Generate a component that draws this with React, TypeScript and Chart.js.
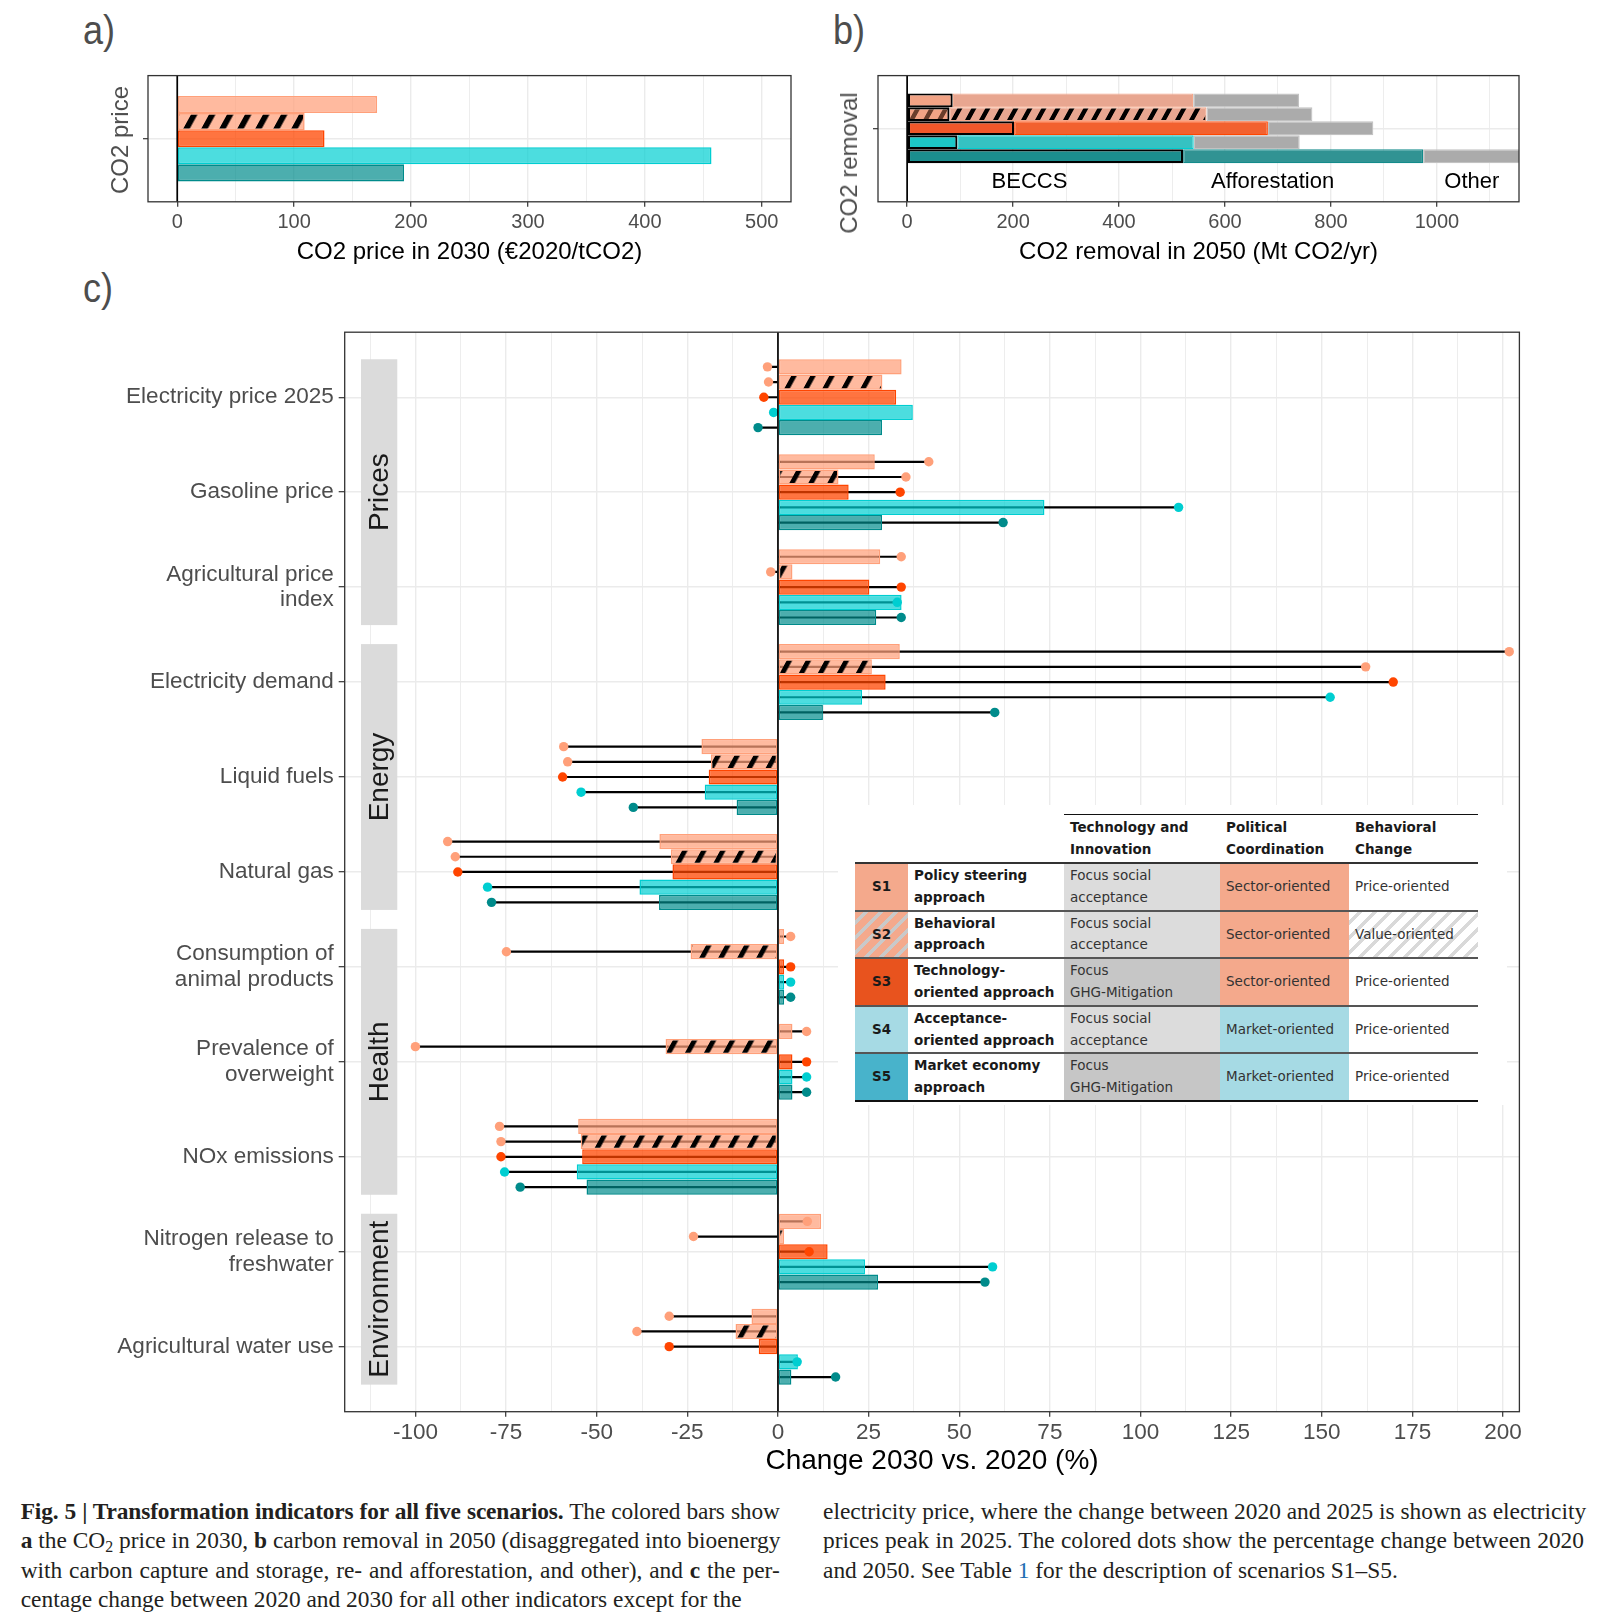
import React, { useEffect, useRef } from 'react';
import { Chart, registerables } from 'chart.js';

Chart.register(...registerables);

// ---------------- data ----------------
const scenarios = ['S1', 'S2', 'S3', 'S4', 'S5'];

// panel a
const co2PriceTicks = [0, 100, 200, 300, 400, 500];
const co2Price2030 = [171, 109, 126, 457, 194];

// panel b
const removalTicks = [0, 200, 400, 600, 800, 1000];
const removalBECCS = [86, 80, 202, 95, 521];
const removalAfforestation = [454, 485, 479, 446, 453];
const removalOther = [200, 200, 199, 200, 186];
const removalTypes = ['BECCS', 'Afforestation', 'Other'];
const removalTypeLabelX = [231, 690, 1066];

// panel c
const indicators: any[] = [
  'Electricity price 2025',
  'Gasoline price',
  ['Agricultural price', 'index'],
  'Electricity demand',
  'Liquid fuels',
  'Natural gas',
  ['Consumption of', 'animal products'],
  ['Prevalence of', 'overweight'],
  'NOx emissions',
  ['Nitrogen release to', 'freshwater'],
  'Agricultural water use',
];
const sectors = ['Prices', 'Energy', 'Health', 'Environment'];
const sectorFirst = [0, 3, 6, 9];
const sectorLast = [2, 5, 8, 10];
const changeTicks = [-100, -75, -50, -25, 0, 25, 50, 75, 100, 125, 150, 175, 200];

const change2030S1 = [34.1, 26.7, 28.2, 33.6, -21.1, -32.7, 1.7, 4.0, -55.1, 11.9, -7.3];
const change2030S2 = [28.8, 16.7, 4.0, 25.9, -18.5, -29.5, -24.1, -31.0, -54.4, 1.7, -11.7];
const change2030S3 = [32.6, 19.5, 25.2, 29.7, -19.1, -29.1, 1.7, 4.0, -54.0, 13.7, -5.3];
const change2030S4 = [37.2, 73.5, 34.1, 23.2, -20.2, -38.2, 1.7, 4.0, -55.5, 24.0, 5.5];
const change2030S5 = [28.7, 28.7, 27.1, 12.4, -11.4, -32.8, 1.7, 4.0, -52.8, 27.6, 3.7];

const change2050S1 = [-2.9, 41.6, 34.0, 201.7, -59.1, -91.1, 3.5, 7.9, -76.8, 8.1, -30.0];
const change2050S2 = [-2.6, 35.3, -2.0, 162.1, -58.0, -89.0, -74.9, -100.0, -76.4, -23.3, -38.9];
const change2050S3 = [-3.9, 33.7, 34.0, 169.7, -59.4, -88.3, 3.5, 7.9, -76.4, 8.6, -30.0];
const change2050S4 = [-1.2, 110.5, 32.9, 152.3, -54.3, -80.1, 3.5, 7.9, -75.4, 59.2, 5.3];
const change2050S5 = [-5.5, 62.1, 34.0, 59.8, -39.9, -79.0, 3.5, 7.9, -71.1, 57.1, 15.9];

const change2030 = [change2030S1, change2030S2, change2030S3, change2030S4, change2030S5];
const change2050 = [change2050S1, change2050S2, change2050S3, change2050S4, change2050S5];

// table (legend)
const scenarioNames = [
  ['Policy steering', 'approach'],
  ['Behavioral', 'approach'],
  ['Technology-', 'oriented approach'],
  ['Acceptance-', 'oriented approach'],
  ['Market economy', 'approach'],
];
const techInnovation = [
  ['Focus social', 'acceptance'],
  ['Focus social', 'acceptance'],
  ['Focus', 'GHG-Mitigation'],
  ['Focus social', 'acceptance'],
  ['Focus', 'GHG-Mitigation'],
];
const politicalCoordination = ['Sector-oriented', 'Sector-oriented', 'Sector-oriented', 'Market-oriented', 'Market-oriented'];
const behavioralChange = ['Price-oriented', 'Value-oriented', 'Price-oriented', 'Price-oriented', 'Price-oriented'];
const tableHeader = [['Technology and', 'Innovation'], ['Political', 'Coordination'], ['Behavioral', 'Change']];

// ---------------- styles ----------------
const FONT_SANS = '"Liberation Sans", Arial, Helvetica, sans-serif';
const FONT_TABLE = '"DejaVu Sans", Verdana, sans-serif';
const FONT_SERIF = '"Liberation Serif", "Times New Roman", serif';
Chart.defaults.font.family = FONT_SANS;

const RGB = [[255, 160, 122], [255, 160, 122], [255, 69, 0], [0, 206, 209], [0, 139, 139]];
const FILL_ALPHA = [0.72, 0.72, 0.75, 0.7, 0.7];
const rgba = (c: number[], a: number) => `rgba(${c[0]},${c[1]},${c[2]},${a})`;

const BECCS_FILL = ['#F2A385', '#F2A385', '#F0572A', '#1CC7C7', '#1B8E8E'];
const AFF_FILL = ['#E8A690', '#E8A690', '#F2612F', '#35C2C2', '#319393'];
const AFF_BORDER = ['#F5A88B', '#F5A88B', '#FF4500', '#00CED1', '#138B8B'];
const OTHER_FILL = '#ABABAB';
const OTHER_BORDER = '#C2C2C2';

const GROUP_WIDTH = 0.8;
const GRID = '#EBEBEB';
const TICK_TEXT = '#4D4D4D';

function makeHatch(ctx: any, bg: string, stripe: string, period: number, width: number) {
  const c = document.createElement('canvas');
  c.width = period;
  c.height = period;
  const g = c.getContext('2d') as CanvasRenderingContext2D;
  g.fillStyle = bg;
  g.fillRect(0, 0, period, period);
  g.fillStyle = stripe;
  g.fillRect(0, 0, width, period);
  const p = ctx.createPattern(c, 'repeat');
  if (p && (p as any).setTransform) p.setTransform(new DOMMatrix([1, 0, -0.55, 1, 0, 0]));
  return p;
}

const withMinor = (major: number[], step: number, min: number, max: number) => {
  const all: number[] = [];
  major.forEach((v) => all.push(v - step / 2, v));
  all.push(major[major.length - 1] + step / 2);
  return all.filter((v) => v >= min && v <= max).sort((a, b) => a - b);
};
const isMajor = (v: number, step: number) => Math.abs(v / step - Math.round(v / step)) < 1e-6;

function xAxis(o: any) {
  const ticks = withMinor(o.major, o.step, o.min, o.max);
  return {
    type: 'linear',
    min: o.min,
    max: o.max,
    stacked: o.stacked,
    afterBuildTicks: (ax: any) => {
      ax.ticks = ticks.map((v) => ({ value: v }));
    },
    afterFit: (ax: any) => {
      ax.height = o.height;
    },
    ticks: {
      autoSkip: false,
      maxRotation: 0,
      color: TICK_TEXT,
      font: { size: o.tickSize },
      padding: o.tickPad,
      callback: (v: number) => (isMajor(v, o.step) ? String(v) : ''),
    },
    grid: {
      color: GRID,
      lineWidth: (c: any) => (c.tick && isMajor(c.tick.value, o.step) ? 1.4 : 0.9),
      tickColor: (c: any) => (c.tick && isMajor(c.tick.value, o.step) ? '#333333' : 'rgba(0,0,0,0)'),
      tickLength: 5,
      tickWidth: 1.2,
    },
    border: { display: false },
    title: {
      display: true,
      text: o.title,
      color: '#000',
      font: { size: o.titleSize, lineHeight: o.titleLH },
      padding: { top: 0, bottom: o.titlePad },
    },
  };
}

// fixed-width y axis that does not push the plot area for its labels
const fixY = (w: number) => (ax: any) => {
  ax.width = w;
  ax.paddingTop = 0;
  ax.paddingBottom = 0;
};

// ---------------- plugins ----------------
const panelBox = {
  id: 'panelBox',
  afterDraw(chart: any) {
    const { ctx, chartArea: a } = chart;
    ctx.save();
    ctx.strokeStyle = '#333333';
    ctx.lineWidth = 1.3;
    ctx.strokeRect(a.left, a.top, a.right - a.left, a.bottom - a.top);
    ctx.restore();
  },
};

const zeroLine = {
  id: 'zeroLine',
  afterDatasetsDraw(chart: any) {
    const { ctx, chartArea: a, scales } = chart;
    const x = scales.x.getPixelForValue(0);
    ctx.save();
    ctx.strokeStyle = '#000';
    ctx.lineWidth = 1.7;
    ctx.beginPath();
    ctx.moveTo(x, a.top);
    ctx.lineTo(x, a.bottom);
    ctx.stroke();
    ctx.restore();
  },
};

const STRIP_FROM = -115;
const STRIP_TO = -105;
const sectorStrips = {
  id: 'sectorStrips',
  beforeDatasetsDraw(chart: any) {
    const { ctx, scales } = chart;
    const { x, y } = scales;
    ctx.save();
    sectors.forEach((name, g) => {
      const x0 = x.getPixelForValue(STRIP_FROM);
      const x1 = x.getPixelForValue(STRIP_TO);
      const y0 = y.getPixelForValue(sectorFirst[g] - GROUP_WIDTH / 2);
      const y1 = y.getPixelForValue(sectorLast[g] + GROUP_WIDTH / 2);
      ctx.fillStyle = '#DBDBDB';
      ctx.fillRect(x0, y0, x1 - x0, y1 - y0);
      ctx.save();
      ctx.translate((x0 + x1) / 2, (y0 + y1) / 2);
      ctx.rotate(-Math.PI / 2);
      ctx.fillStyle = '#1A1A1A';
      ctx.font = `28px ${FONT_SANS}`;
      ctx.textAlign = 'center';
      ctx.textBaseline = 'middle';
      ctx.fillText(name, 0, 1);
      ctx.restore();
    });
    ctx.restore();
  },
};

const REMOVAL_LABEL_Y = 0.62;
const removalTypeText = {
  id: 'removalTypeText',
  afterDatasetsDraw(chart: any) {
    const { ctx, scales } = chart;
    ctx.save();
    ctx.fillStyle = '#000';
    ctx.font = `22px ${FONT_SANS}`;
    ctx.textAlign = 'center';
    ctx.textBaseline = 'middle';
    removalTypes.forEach((t, j) => {
      ctx.fillText(t, scales.x.getPixelForValue(removalTypeLabelX[j]), scales.y.getPixelForValue(REMOVAL_LABEL_Y));
    });
    ctx.restore();
  },
};

const baseOptions = {
  indexAxis: 'y',
  animation: false,
  responsive: true,
  maintainAspectRatio: false,
  events: [],
};

// ---------------- chart builders ----------------
function buildPanelA(ctx: any) {
  const hatch = makeHatch(ctx, rgba(RGB[1], FILL_ALPHA[1]), '#000', 18, 6.5);
  return {
    type: 'bar',
    data: {
      labels: ['CO2 price'],
      datasets: scenarios.map((s, k) => ({
        label: s,
        data: [co2Price2030[k]],
        backgroundColor: k === 1 ? hatch : rgba(RGB[k], FILL_ALPHA[k]),
        borderColor: rgba(RGB[k], 1),
        borderWidth: 1.6,
        borderSkipped: false,
        categoryPercentage: 0.677,
        barPercentage: 1,
      })),
    },
    options: {
      ...baseOptions,
      layout: { padding: { top: 15.6, right: 14, left: 0, bottom: 0 } },
      plugins: { legend: { display: false }, tooltip: { enabled: false } },
      scales: {
        x: xAxis({
          major: co2PriceTicks, step: 100, min: -25, max: 525, height: 65.2,
          tickSize: 20, tickPad: 3.7, title: 'CO2 price in 2030 (€2020/tCO2)', titleSize: 24, titleLH: 1.2, titlePad: 0.6,
        }),
        y: {
          type: 'category',
          offset: true,
          afterFit: fixY(53),
          ticks: { callback: () => '' },
          grid: { color: GRID, lineWidth: 1.4, offset: false, tickColor: '#333', tickLength: 5, tickWidth: 1.2 },
          border: { display: false },
        },
      },
    },
    plugins: [zeroLine, panelBox],
  };
}

function buildPanelB(ctx: any) {
  const hatchBeccs = makeHatch(ctx, BECCS_FILL[1], 'rgba(70,35,20,0.8)', 14, 5);
  const hatchAff = makeHatch(ctx, AFF_FILL[1], '#000', 14, 5);
  const segs = [removalBECCS, removalAfforestation, removalOther];
  const datasets: any[] = [];
  scenarios.forEach((s, k) => {
    segs.forEach((arr, j) => {
      let bg: any = OTHER_FILL;
      if (j === 0) bg = k === 1 ? hatchBeccs : BECCS_FILL[k];
      if (j === 1) bg = k === 1 ? hatchAff : AFF_FILL[k];
      datasets.push({
        label: `${s} ${removalTypes[j]}`,
        data: [{ x: arr[k], y: 0 }],
        stack: s,
        backgroundColor: bg,
        borderColor: j === 0 ? '#000' : j === 1 ? AFF_BORDER[k] : OTHER_BORDER,
        borderWidth: j === 0 ? 2.2 : 1.2,
        borderSkipped: false,
        categoryPercentage: 0.553,
        barPercentage: 1,
      });
    });
  });
  return {
    type: 'bar',
    data: { datasets },
    options: {
      ...baseOptions,
      layout: { padding: { top: 15.6, right: 21, left: 0, bottom: 0 } },
      plugins: { legend: { display: false }, tooltip: { enabled: false } },
      scales: {
        x: xAxis({
          major: removalTicks, step: 200, min: -55, max: 1155, height: 65.2, stacked: true,
          tickSize: 20, tickPad: 3.7, title: 'CO2 removal in 2050 (Mt CO2/yr)', titleSize: 24, titleLH: 1.2, titlePad: 0.6,
        }),
        y: {
          type: 'linear',
          reverse: true,
          min: -0.605,
          max: 0.844,
          offset: false,
          afterBuildTicks: (ax: any) => { ax.ticks = [{ value: 0 }]; },
          afterFit: fixY(48),
          ticks: { callback: () => '' },
          grid: { color: GRID, lineWidth: 1.4, offset: false, tickColor: '#333', tickLength: 5, tickWidth: 1.2 },
          border: { display: false },
        },
      },
    },
    plugins: [removalTypeText, zeroLine, panelBox],
  };
}

function buildPanelC(ctx: any) {
  const hatch = makeHatch(ctx, rgba(RGB[1], FILL_ALPHA[1]), '#000', 19, 5.5);
  const n = scenarios.length;
  const datasets: any[] = [];
  scenarios.forEach((s, k) => {
    datasets.push({
      type: 'bar',
      label: `${s} 2030`,
      data: indicators.map((_, i) => ({ x: change2030[k][i], y: i })),
      stack: s,
      backgroundColor: k === 1 ? hatch : rgba(RGB[k], FILL_ALPHA[k]),
      borderColor: rgba(RGB[k], 1),
      borderWidth: 1.5,
      borderSkipped: false,
      categoryPercentage: GROUP_WIDTH,
      barPercentage: 1,
      order: 1,
    });
  });
  scenarios.forEach((s, k) => {
    datasets.push({
      type: 'bar',
      label: `${s} 2050 line`,
      data: indicators.map((_, i) => ({ x: [0, change2050[k][i]], y: i })),
      stack: s,
      backgroundColor: '#000',
      borderWidth: 0,
      categoryPercentage: GROUP_WIDTH,
      barPercentage: 1,
      maxBarThickness: 2.2,
      order: 2,
    });
  });
  scenarios.forEach((s, k) => {
    datasets.push({
      type: 'scatter',
      label: `${s} 2050`,
      data: indicators.map((_, i) => ({ x: change2050[k][i], y: i + (k - (n - 1) / 2) * (GROUP_WIDTH / n) })),
      backgroundColor: rgba(RGB[k], 1),
      borderWidth: 0,
      pointRadius: 4.7,
      order: 0,
    });
  });
  return {
    type: 'bar',
    data: { datasets },
    options: {
      ...baseOptions,
      layout: { padding: { top: 12.2, right: 20.6, left: 0, bottom: 0 } },
      plugins: { legend: { display: false }, tooltip: { enabled: false } },
      scales: {
        x: xAxis({
          major: changeTicks, step: 25, min: -119.5, max: 204.5, height: 70.3, stacked: false,
          tickSize: 22.5, tickPad: 3, title: 'Change 2030 vs. 2020 (%)', titleSize: 28, titleLH: 1, titlePad: 7,
        }),
        y: {
          type: 'linear',
          reverse: true,
          min: -0.685,
          max: 10.685,
          offset: false,
          afterBuildTicks: (ax: any) => { ax.ticks = indicators.map((_, i) => ({ value: i })); },
          afterFit: fixY(244.7),
          ticks: {
            autoSkip: false,
            color: TICK_TEXT,
            font: { size: 22.5, lineHeight: 1.13 },
            padding: 5,
            callback: (v: number) => indicators[v],
          },
          grid: { color: GRID, lineWidth: 1.4, offset: false, tickColor: '#333', tickLength: 6, tickWidth: 1.2 },
          border: { display: false },
        },
      },
    },
    plugins: [sectorStrips, zeroLine, panelBox],
  };
}

// ---------------- components ----------------
function ChartBox({ left, top, width, height, build }: any) {
  const ref = useRef<HTMLCanvasElement | null>(null);
  useEffect(() => {
    const canvas = ref.current as HTMLCanvasElement;
    const ctx = canvas.getContext('2d');
    const chart = new Chart(ctx as any, build(ctx) as any);
    return () => chart.destroy();
  }, []);
  return (
    <div style={{ position: 'absolute', left, top, width, height }}>
      <canvas ref={ref} />
    </div>
  );
}

function PanelLabel({ text, left, top }: any) {
  return (
    <div
      style={{
        position: 'absolute', left, top, fontFamily: FONT_SANS, fontSize: 41, lineHeight: '41px', color: '#4D4D4D',
        transform: 'scaleX(0.88)', transformOrigin: 'left top',
      }}
    >
      {text}
    </div>
  );
}

function RotatedTitle({ text, cx, cy }: any) {
  return (
    <div
      style={{
        position: 'absolute', left: cx, top: cy, transform: 'translate(-50%, -50%) rotate(-90deg)',
        fontFamily: FONT_SANS, fontSize: 24, lineHeight: '28px', color: '#4D4D4D', whiteSpace: 'nowrap',
      }}
    >
      {text}
    </div>
  );
}

const S_FILL = ['#F4A98C', null, '#E8531E', '#A6DAE4', '#48B3CB'];
const S2_STRIPES = 'repeating-linear-gradient(135deg, #F4A98C 0px, #F4A98C 6.5px, #C9C9C9 6.5px, #C9C9C9 10.6px)';
const VALUE_STRIPES = 'repeating-linear-gradient(135deg, #FFFFFF 0px, #FFFFFF 6.5px, #D9D9D9 6.5px, #D9D9D9 10.6px)';
const TECH_FILL = (lines: string[]) => (lines[0] === 'Focus' ? '#C6C6C6' : '#DCDCDC');
const POL_FILL = (t: string) => (t.startsWith('Sector') ? '#F4A98C' : '#A6DAE4');

function Cell({ left, top, width, height, bg, lines, bold, center }: any) {
  return (
    <div
      style={{
        position: 'absolute', left, top, width, height, background: bg || 'transparent', boxSizing: 'border-box',
        display: 'flex', flexDirection: 'column', justifyContent: 'center', alignItems: center ? 'center' : 'flex-start',
        paddingLeft: center ? 0 : 6, fontFamily: FONT_TABLE, fontSize: 13.5, lineHeight: '21.7px',
        fontWeight: bold ? 700 : 400, color: bold ? '#1A1A1A' : '#333333', whiteSpace: 'nowrap',
      }}
    >
      {lines.map((l: string, i: number) => (
        <div key={i}>{l}</div>
      ))}
    </div>
  );
}

function ScenarioTable() {
  const L = 855;
  const T = 814.5;
  const HH = 48.5;
  const RH = 47.6;
  const cols = [53, 156, 156, 129, 129];
  const colX = cols.map((_, i) => L + cols.slice(0, i).reduce((a, b) => a + b, 0));
  const W = cols.reduce((a, b) => a + b, 0);
  const cells: any[] = [];
  tableHeader.forEach((h, j) => {
    cells.push(<Cell key={`h${j}`} left={colX[j + 2]} top={T} width={cols[j + 2]} height={HH} lines={h} bold />);
  });
  scenarios.forEach((s, k) => {
    const top = T + HH + k * RH;
    cells.push(
      <Cell key={`s${k}`} left={colX[0]} top={top} width={cols[0]} height={RH} bg={k === 1 ? S2_STRIPES : S_FILL[k]} lines={[s]} bold center />,
      <Cell key={`n${k}`} left={colX[1]} top={top} width={cols[1]} height={RH} lines={scenarioNames[k]} bold />,
      <Cell key={`t${k}`} left={colX[2]} top={top} width={cols[2]} height={RH} bg={TECH_FILL(techInnovation[k])} lines={techInnovation[k]} />,
      <Cell key={`p${k}`} left={colX[3]} top={top} width={cols[3]} height={RH} bg={POL_FILL(politicalCoordination[k])} lines={[politicalCoordination[k]]} />,
      <Cell key={`b${k}`} left={colX[4]} top={top} width={cols[4]} height={RH} bg={behavioralChange[k].startsWith('Value') ? VALUE_STRIPES : undefined} lines={[behavioralChange[k]]} />,
    );
  });
  const rules: any[] = [];
  rules.push(<div key="r-top" style={{ position: 'absolute', left: colX[2], top: T - 0.75, width: W - (colX[2] - L), height: 1.5, background: '#111' }} />);
  for (let k = 0; k <= scenarios.length; k++) {
    const y = T + HH + k * RH;
    const last = k === scenarios.length;
    rules.push(
      <div key={`r${k}`} style={{ position: 'absolute', left: L, top: y - 1, width: W, height: last ? 1.6 : 2, background: last ? '#111' : k === 0 ? '#333' : '#555' }} />,
    );
  }
  return (
    <>
      <div style={{ position: 'absolute', left: 838, top: 805, width: 669, height: 300, background: '#FFFFFF' }} />
      {cells}
      {rules}
    </>
  );
}

const captionLine = (justify: boolean): any => ({
  height: 29.3, lineHeight: '29.3px', whiteSpace: 'nowrap', textAlign: justify ? 'justify' : 'left',
  textAlignLast: justify ? 'justify' : 'left',
});

function Caption() {
  const common: any = { position: 'absolute', top: 1497, fontFamily: FONT_SERIF, fontSize: 23.4, color: '#231F20' };
  const sub = <sub style={{ fontSize: '0.68em', verticalAlign: '-0.28em', lineHeight: 0 }}>2</sub>;
  return (
    <>
      <div style={{ ...common, left: 20.7, width: 759 }}>
        <div style={{ ...captionLine(true), letterSpacing: -0.15 }}>
          <b>Fig. 5 | Transformation indicators for all five scenarios.</b> The colored bars show
        </div>
        <div style={captionLine(true)}>
          <b>a</b> the CO{sub} price in 2030, <b>b</b> carbon removal in 2050 (disaggregated into bioenergy
        </div>
        <div style={captionLine(true)}>
          with carbon capture and storage, re- and afforestation, and other), and <b>c</b> the per-
        </div>
        <div style={captionLine(false)}>centage change between 2020 and 2030 for all other indicators except for the</div>
      </div>
      <div style={{ ...common, left: 823, width: 761 }}>
        <div style={captionLine(true)}>electricity price, where the change between 2020 and 2025 is shown as electricity</div>
        <div style={captionLine(true)}>prices peak in 2025. The colored dots show the percentage change between 2020</div>
        <div style={captionLine(false)}>
          and 2050. See Table <span style={{ color: '#1F6FB2' }}>1</span> for the description of scenarios S1–S5.
        </div>
      </div>
    </>
  );
}

export default function App() {
  return (
    <div style={{ position: 'absolute', left: 0, top: 0, width: 1618, height: 1624, background: '#FFFFFF', overflow: 'hidden' }}>
      <PanelLabel text="a)" left={83} top={10} />
      <PanelLabel text="b)" left={833} top={10} />
      <PanelLabel text="c)" left={83} top={268} />

      <ChartBox left={95} top={60} width={710} height={207} build={buildPanelA} />
      <RotatedTitle text="CO2 price" cx={120} cy={140} />

      <ChartBox left={830} top={60} width={710} height={207} build={buildPanelB} />
      <RotatedTitle text="CO2 removal" cx={849} cy={163} />

      <ChartBox left={100} top={320} width={1440} height={1162} build={buildPanelC} />
      <ScenarioTable />

      <Caption />
    </div>
  );
}
